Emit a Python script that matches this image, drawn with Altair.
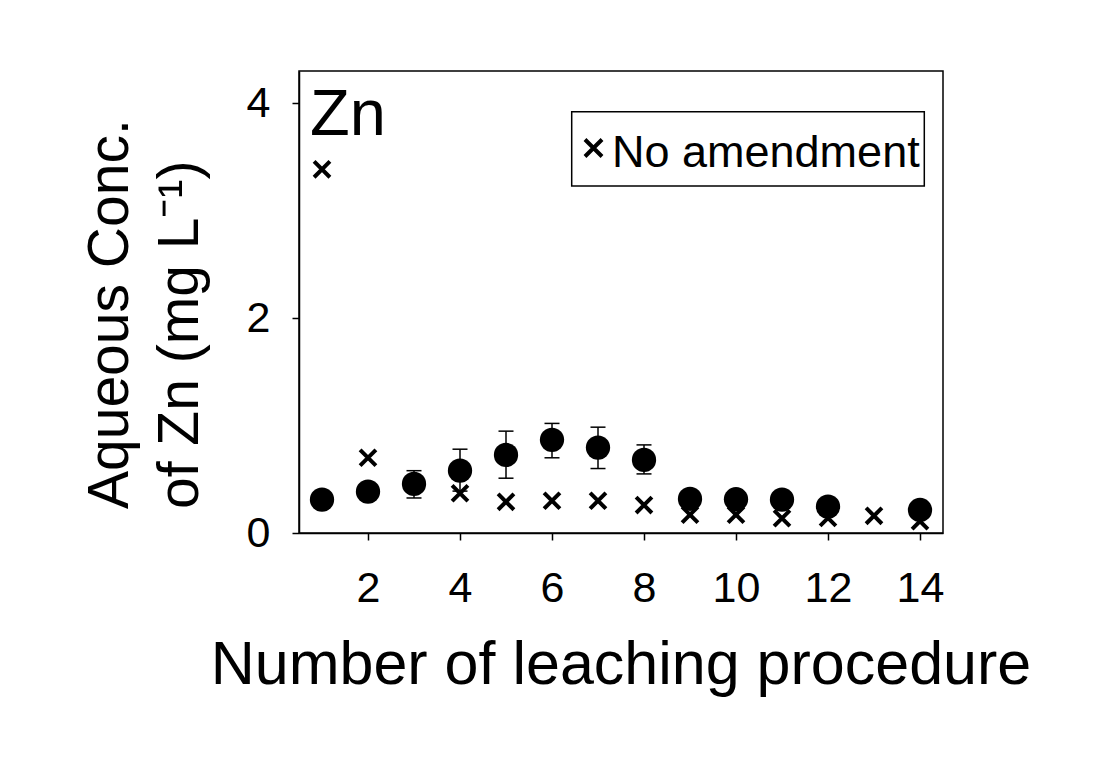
import altair as alt
import pandas as pd

# ---- data ----
circ_x = [1, 2, 3, 4, 5, 6, 7, 8, 9, 10, 11, 12, 14]
circ_y = [0.31, 0.385, 0.457, 0.58, 0.727, 0.867, 0.795, 0.68, 0.317, 0.314, 0.31, 0.245, 0.214]
circ_lo = [0.27, 0.34, 0.326, 0.39, 0.51, 0.70, 0.60, 0.55, 0.28, 0.28, 0.27, 0.21, 0.18]
circ_hi = [0.35, 0.43, 0.58, 0.78, 0.948, 1.02, 0.985, 0.82, 0.35, 0.35, 0.35, 0.28, 0.25]

cross_x = [1, 2, 4, 5, 6, 7, 8, 9, 10, 11, 12, 13, 14]
cross_y = [3.385, 0.70, 0.37, 0.29, 0.30, 0.30, 0.26, 0.17, 0.17, 0.137, 0.14, 0.16, 0.11]
cross_series = "No amendment"

x_ticks = [2, 4, 6, 8, 10, 12, 14]
y_ticks = [0, 2, 4]
x_title = "Number of leaching procedure"
y_title_lines = ["Aqueous Conc.", "of Zn (mg L\u207b\u00b9)"]
panel_label = "Zn"

FONT = "Liberation Sans"
XPATH = "M-1,-1L1,1M-1,1L1,-1"

circ_df = pd.DataFrame({"n": circ_x, "c": circ_y, "lo": circ_lo, "hi": circ_hi})
cross_df = pd.DataFrame({"n": cross_x, "c": cross_y, "series": [cross_series] * len(cross_x)})

xscale = alt.Scale(domain=[0.5, 14.5], nice=False, zero=False)
yscale = alt.Scale(domain=[0, 4.3], nice=False, zero=False)

x_axis = alt.Axis(values=x_ticks, title=None, labelFontSize=43, labelFont=FONT,
                  labelColor="black", tickSize=7, tickWidth=1.5, tickColor="black",
                  domainColor="black", domainWidth=1.5, labelPadding=27, grid=False,
                  labelFlush=False)
y_axis = alt.Axis(values=y_ticks, title=None, labelFontSize=43, labelFont=FONT,
                  labelColor="black", tickSize=7, tickWidth=1.5, tickColor="black",
                  domainColor="black", domainWidth=1.5, labelPadding=22, grid=False,
                  labelFlush=False)

X = alt.X("n:Q", scale=xscale, axis=x_axis)
Y = alt.Y("c:Q", scale=yscale, axis=y_axis)

base_c = alt.Chart(circ_df)

bars = base_c.mark_rule(color="black", strokeWidth=1.5).encode(
    x=X, y=alt.Y("lo:Q", scale=yscale, axis=y_axis), y2="hi:Q")
cap_hi = base_c.mark_tick(color="black", orient="horizontal", size=15, thickness=1.5, opacity=1).encode(
    x=X, y=alt.Y("hi:Q", scale=yscale, axis=y_axis))
cap_lo = base_c.mark_tick(color="black", orient="horizontal", size=15, thickness=1.5, opacity=1).encode(
    x=X, y=alt.Y("lo:Q", scale=yscale, axis=y_axis))

crosses = alt.Chart(cross_df).mark_point(filled=False, color="black", size=250,
                                          strokeWidth=4, opacity=1, shape=XPATH).encode(
    x=X, y=Y)

circles = base_c.mark_circle(color="black", size=590, opacity=1).encode(x=X, y=Y)

# ---- legend key (box, symbol, label) ----
leg_df = pd.DataFrame({"t": [cross_series]})
leg_box = alt.Chart(leg_df).mark_rect(fill="white", stroke="black", strokeWidth=1.5).encode(
    x=alt.value(272.7), x2=alt.value(625.3), y=alt.value(40.7), y2=alt.value(115))
leg_sym = alt.Chart(leg_df).mark_point(filled=False, color="black", size=290, strokeWidth=4,
                                       opacity=1, shape=XPATH).encode(
    x=alt.value(294.5), y=alt.value(77))
leg_txt = alt.Chart(leg_df).mark_text(align="left", baseline="alphabetic", fontSize=45,
                                      font=FONT, color="black").encode(
    x=alt.value(313), y=alt.value(96), text="t:N")

zn = alt.Chart(pd.DataFrame({"t": [panel_label]})).mark_text(
    align="left", baseline="alphabetic", fontSize=65, font=FONT, color="black").encode(
    x=alt.value(11), y=alt.value(64), text="t:N")

xt = alt.Chart(pd.DataFrame({"t": [x_title]})).mark_text(
    align="center", baseline="alphabetic", fontSize=61, font=FONT, color="black").encode(
    x=alt.value(322), y=alt.value(613), text="t:N")

yt1 = alt.Chart(pd.DataFrame({"t": [y_title_lines[0]]})).mark_text(
    align="left", baseline="alphabetic", angle=270, fontSize=57, font=FONT, color="black").encode(
    x=alt.value(-171), y=alt.value(438), text="t:N")
yt2 = alt.Chart(pd.DataFrame({"t": [y_title_lines[1]]})).mark_text(
    align="left", baseline="alphabetic", angle=270, fontSize=57, font=FONT, color="black").encode(
    x=alt.value(-101), y=alt.value(438), text="t:N")

chart = alt.layer(bars, cap_hi, cap_lo, crosses, circles, leg_box, leg_sym, leg_txt,
                  zn, xt, yt1, yt2).properties(
    width=644, height=462,
    autosize=alt.AutoSizeParams(type="none"),
    padding={"left": 299, "top": 71, "right": 167, "bottom": 248},
    background="white",
).configure_view(stroke="black", strokeWidth=1.5)

chart.save("out.html", embed_options={"renderer": "svg", "actions": False})
